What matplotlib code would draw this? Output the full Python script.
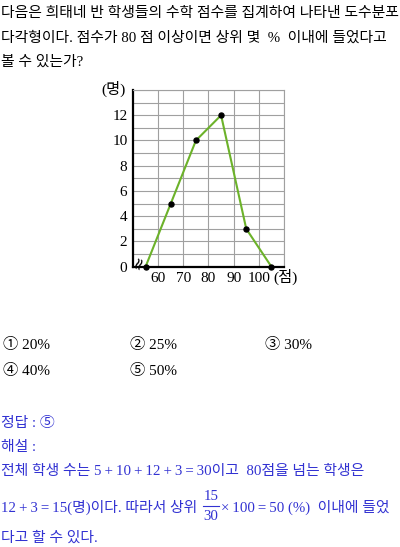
import matplotlib
matplotlib.use('Agg')
import matplotlib.pyplot as plt
import numpy as np

scores = [55, 65, 75, 85, 95, 105]
counts = [0, 5, 10, 12, 3, 0]
xtick_vals = [60, 70, 80, 90, 100]
ytick_vals = [0, 2, 4, 6, 8, 10, 12]

question = ['다음은 희태네 반 학생들의 수학 점수를 집계하여 나타낸 도수분포',
            '다각형이다. 점수가 80 점 이상이면 상위 몇  %  이내에 들었다고',
            '볼 수 있는가?']
choices = ['① 20%', '② 25%', '③ 30%', '④ 40%', '⑤ 50%']

FAM = ['Liberation Serif', 'Noto Sans CJK KR', 'DejaVu Sans']
BLUE = '#3232d2'
W, H = 400, 547
FS = 10.7
T = '\u2009'  # thin space

fig = plt.figure(figsize=(W / 100, H / 100), dpi=100)

def put(x, y, s, **kw):
    # x, y in pixels from top-left
    kw.setdefault('fontsize', FS)
    kw.setdefault('va', 'center')
    fig.text(x / W, 1 - y / H, s, family=FAM, **kw)

# question text
for i, line in enumerate(question):
    put(1, 13 + i * 24.5, line)

# chart
ax = fig.add_axes([133 / W, 1 - 266.7 / H, 151 / W, 176.7 / H])
ax.set_xlim(50, 110)
ax.set_ylim(0, 14)
ax.set_xticks(xtick_vals)
ax.set_xticks([60, 70, 80, 90, 100, 110], minor=True)
ax.set_yticks(ytick_vals)
ax.set_yticks(np.arange(0, 15, 1), minor=True)
ax.grid(which='both', color='#a0a0a0', lw=0.8)
ax.tick_params(which='both', length=0, labelsize=11, pad=4)
for lab in ax.get_xticklabels() + ax.get_yticklabels():
    lab.set_family('Liberation Serif')
for s in ['top', 'right']:
    ax.spines[s].set_color('#a0a0a0')
    ax.spines[s].set_linewidth(0.8)
for s in ['left', 'bottom']:
    ax.spines[s].set_color('black')
    ax.spines[s].set_linewidth(1.6)
ax.set_axisbelow(True)

ax.plot(scores, counts, color='#6cb22a', lw=1.5, zorder=3, clip_on=False)
ax.plot(scores, counts, 'o', color='black', ms=3.6, zorder=4, clip_on=False)

# axis break mark near origin
ax.text(52.0, 0.3, '≈', rotation=70, fontsize=12, ha='center', va='center',
        family='DejaVu Sans', zorder=5, clip_on=False)

put(114, 89, '(명)', fontsize=11, ha='center')
put(286, 277, '(점)', fontsize=11, ha='center')

# answer choices
cx = [3, 130, 265]
for i, c in enumerate(choices):
    put(cx[i % 3], 345 + (i // 3) * 25.5, c, fontsize=11)

# solution (blue)
put(1, 423, '정답 : ⑤', color=BLUE)
put(1, 447, '해설 :', color=BLUE)
put(1, 471, f'전체 학생 수는 5{T}+{T}10{T}+{T}12{T}+{T}3{T}={T}30이고  80점을 넘는 학생은',
    color=BLUE)
put(1, 507, f'12{T}+{T}3{T}={T}15(명)이다. 따라서 상위', color=BLUE)
put(211, 496, '15', color=BLUE, ha='center')
put(211, 516, '30', color=BLUE, ha='center')
fig.add_artist(plt.Line2D([203 / W, 219 / W], [1 - 506 / H, 1 - 506 / H],
                          color=BLUE, lw=0.8))
put(221, 507, f'×{T}100{T}={T}50 (%)  이내에 들었', color=BLUE)
put(1, 538, '다고 할 수 있다.', color=BLUE)

fig.savefig('out.png', dpi=100)
